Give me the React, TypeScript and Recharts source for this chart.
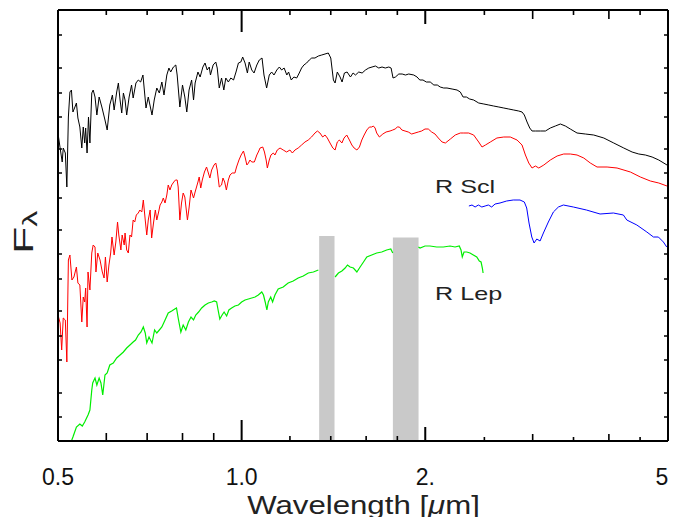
import React from "react";
import { ComposedChart, Line, XAxis, YAxis, ReferenceArea, ReferenceLine } from "recharts";

// Spectra: [wavelength (µm), F_lambda (arbitrary units)]
const blackSpec: [number, number][] = [
[0.501,3.04],[0.504,2.93],[0.508,2.79],[0.510,2.93],[0.514,2.88],[0.517,2.54],[0.520,3.24],[0.523,3.49],[0.526,3.51],[0.529,3.29],[0.533,3.34],[0.536,3.38],[0.539,3.23],[0.543,3.14],[0.547,2.93],[0.550,3.14],[0.553,2.98],[0.555,3.13],[0.558,2.88],[0.561,3.24],[0.564,2.98],[0.568,3.48],[0.571,3.51],[0.575,3.44],[0.579,3.26],[0.584,3.44],[0.590,3.34],[0.597,3.21],[0.602,3.11],[0.608,3.36],[0.614,3.46],[0.618,3.31],[0.624,3.49],[0.628,3.58],[0.632,3.41],[0.636,3.28],[0.640,3.48],[0.644,3.41],[0.648,3.26],[0.654,3.44],[0.660,3.56],[0.664,3.43],[0.671,3.58],[0.677,3.61],[0.683,3.59],[0.689,3.66],[0.697,3.33],[0.703,3.44],[0.713,3.26],[0.719,3.41],[0.726,3.53],[0.733,3.48],[0.740,3.59],[0.746,3.46],[0.754,3.66],[0.760,3.73],[0.765,3.69],[0.773,3.74],[0.780,3.76],[0.784,3.66],[0.792,3.34],[0.800,3.56],[0.807,3.44],[0.813,3.29],[0.820,3.51],[0.828,3.61],[0.834,3.41],[0.839,3.58],[0.848,3.69],[0.855,3.64],[0.864,3.74],[0.871,3.78],[0.878,3.71],[0.885,3.74],[0.889,3.66],[0.898,3.76],[0.907,3.79],[0.912,3.73],[0.919,3.53],[0.927,3.63],[0.935,3.51],[0.942,3.63],[0.951,3.59],[0.960,3.63],[0.970,3.61],[0.979,3.69],[0.988,3.78],[0.997,3.79],[1.004,3.84],[1.013,3.78],[1.022,3.68],[1.029,3.79],[1.039,3.71],[1.048,3.68],[1.059,3.76],[1.069,3.81],[1.080,3.83],[1.088,3.66],[1.099,3.53],[1.110,3.66],[1.120,3.69],[1.130,3.66],[1.142,3.71],[1.153,3.74],[1.163,3.71],[1.174,3.73],[1.186,3.66],[1.194,3.69],[1.206,3.61],[1.218,3.64],[1.231,3.63],[1.243,3.68],[1.254,3.73],[1.265,3.76],[1.278,3.78],[1.291,3.81],[1.303,3.83],[1.319,3.83],[1.336,3.85],[1.353,3.86],[1.370,3.87],[1.387,3.88],[1.400,3.83],[1.414,3.61],[1.423,3.58],[1.435,3.69],[1.450,3.64],[1.461,3.59],[1.474,3.68],[1.489,3.69],[1.508,3.64],[1.523,3.68],[1.537,3.66],[1.556,3.69],[1.576,3.68],[1.596,3.71],[1.616,3.73],[1.636,3.74],[1.657,3.75],[1.678,3.73],[1.699,3.74],[1.720,3.73],[1.743,3.74],[1.758,3.73],[1.771,3.63],[1.787,3.64],[1.810,3.67],[1.833,3.67],[1.856,3.66],[1.879,3.67],[1.915,3.66],[1.939,3.64],[1.959,3.61],[1.983,3.61],[2.008,3.59],[2.038,3.59],[2.066,3.56],[2.093,3.56],[2.116,3.54],[2.144,3.53],[2.171,3.53],[2.213,3.52],[2.255,3.51],[2.283,3.49],[2.307,3.44],[2.336,3.44],[2.365,3.42],[2.401,3.41],[2.447,3.38],[2.495,3.37],[2.542,3.36],[2.589,3.35],[2.640,3.34],[2.690,3.33],[2.741,3.32],[2.793,3.31],[2.846,3.30],[2.882,3.29],[2.907,3.26],[2.937,3.19],[2.967,3.13],[2.993,3.10],[3.031,3.10],[3.089,3.10],[3.148,3.10],[3.207,3.13],[3.268,3.15],[3.331,3.17],[3.394,3.15],[3.458,3.12],[3.547,3.08],[3.660,3.07],[3.777,3.06],[3.924,3.03],[4.074,2.98],[4.231,2.93],[4.366,2.89],[4.478,2.87],[4.591,2.86],[4.709,2.84],[4.829,2.81],[4.981,2.76]
];

const redSpec: [number, number][] = [
[0.501,1.24],[0.504,1.18],[0.507,0.91],[0.510,1.23],[0.514,1.21],[0.517,0.79],[0.520,1.81],[0.523,1.86],[0.527,1.61],[0.531,1.64],[0.536,1.74],[0.539,1.58],[0.543,1.56],[0.547,1.19],[0.550,1.44],[0.553,1.39],[0.555,1.53],[0.558,1.14],[0.560,1.69],[0.564,1.51],[0.568,1.88],[0.571,1.96],[0.575,1.94],[0.577,1.69],[0.581,1.88],[0.586,1.81],[0.591,1.69],[0.595,1.63],[0.598,1.84],[0.602,1.59],[0.606,1.76],[0.610,1.88],[0.613,2.04],[0.618,1.86],[0.622,1.99],[0.626,2.19],[0.629,2.06],[0.634,1.91],[0.637,2.06],[0.642,1.96],[0.644,2.08],[0.648,1.91],[0.652,1.88],[0.656,2.06],[0.660,2.04],[0.664,2.21],[0.668,2.19],[0.672,2.26],[0.677,2.28],[0.681,2.31],[0.686,2.29],[0.690,2.41],[0.695,2.21],[0.699,2.06],[0.703,2.21],[0.708,2.31],[0.712,2.03],[0.717,2.18],[0.722,2.31],[0.726,2.21],[0.731,2.29],[0.735,2.36],[0.740,2.39],[0.744,2.43],[0.749,2.38],[0.754,2.46],[0.758,2.56],[0.763,2.51],[0.768,2.56],[0.774,2.59],[0.779,2.61],[0.784,2.61],[0.787,2.54],[0.792,2.21],[0.797,2.38],[0.802,2.48],[0.807,2.44],[0.815,2.21],[0.820,2.33],[0.826,2.51],[0.834,2.43],[0.839,2.49],[0.848,2.59],[0.852,2.64],[0.857,2.53],[0.862,2.61],[0.869,2.69],[0.876,2.74],[0.882,2.68],[0.887,2.63],[0.893,2.71],[0.901,2.76],[0.907,2.78],[0.912,2.71],[0.919,2.54],[0.927,2.56],[0.932,2.63],[0.938,2.59],[0.944,2.51],[0.951,2.61],[0.957,2.66],[0.965,2.68],[0.975,2.68],[0.981,2.74],[0.990,2.81],[0.998,2.86],[1.007,2.90],[1.013,2.84],[1.020,2.76],[1.026,2.78],[1.032,2.81],[1.039,2.79],[1.049,2.79],[1.052,2.81],[1.059,2.86],[1.065,2.89],[1.072,2.93],[1.083,2.94],[1.090,2.89],[1.097,2.81],[1.102,2.73],[1.110,2.81],[1.117,2.86],[1.127,2.88],[1.134,2.86],[1.144,2.91],[1.156,2.93],[1.170,2.91],[1.185,2.89],[1.200,2.91],[1.211,2.88],[1.223,2.91],[1.238,2.93],[1.254,2.96],[1.270,2.99],[1.286,3.01],[1.302,3.04],[1.319,3.08],[1.331,3.10],[1.344,3.08],[1.358,3.04],[1.370,3.06],[1.382,3.03],[1.396,2.98],[1.411,2.93],[1.423,2.91],[1.435,2.99],[1.446,3.01],[1.460,2.98],[1.472,3.03],[1.487,3.06],[1.502,3.01],[1.516,2.96],[1.529,2.93],[1.545,2.91],[1.560,2.94],[1.574,3.01],[1.588,3.06],[1.604,3.11],[1.620,3.14],[1.634,3.14],[1.644,3.15],[1.655,3.13],[1.665,3.08],[1.682,3.04],[1.704,3.07],[1.725,3.09],[1.751,3.10],[1.769,3.11],[1.785,3.12],[1.800,3.14],[1.814,3.14],[1.831,3.11],[1.853,3.10],[1.876,3.09],[1.900,3.07],[1.924,3.08],[1.948,3.09],[1.973,3.10],[1.998,3.12],[2.023,3.12],[2.049,3.09],[2.075,3.07],[2.101,3.03],[2.131,2.99],[2.158,2.98],[2.199,3.02],[2.240,3.06],[2.283,3.08],[2.313,3.08],[2.356,3.08],[2.401,3.06],[2.447,2.99],[2.478,2.94],[2.510,2.96],[2.557,2.99],[2.621,3.03],[2.690,3.04],[2.757,3.04],[2.828,3.01],[2.882,2.96],[2.919,2.86],[2.956,2.78],[2.993,2.73],[3.031,2.75],[3.070,2.73],[3.129,2.76],[3.207,2.81],[3.290,2.85],[3.373,2.87],[3.458,2.87],[3.547,2.86],[3.638,2.83],[3.729,2.78],[3.825,2.74],[3.973,2.74],[4.125,2.73],[4.338,2.69],[4.505,2.64],[4.678,2.60],[4.829,2.58],[4.981,2.55]
];

const blueSpec: [number, number][] = [
[2.358,2.35],[2.386,2.36],[2.414,2.34],[2.444,2.36],[2.476,2.34],[2.507,2.35],[2.538,2.36],[2.570,2.34],[2.603,2.37],[2.652,2.38],[2.719,2.40],[2.788,2.41],[2.860,2.41],[2.907,2.39],[2.933,2.33],[2.959,2.18],[2.990,2.04],[3.016,1.98],[3.047,2.02],[3.085,2.00],[3.124,2.08],[3.183,2.19],[3.244,2.29],[3.306,2.34],[3.369,2.36],[3.498,2.34],[3.675,2.31],[3.869,2.27],[4.069,2.28],[4.225,2.26],[4.280,2.21],[4.445,2.16],[4.616,2.09],[4.733,2.04],[4.822,2.04],[4.914,1.99],[4.976,1.94]
];

const greenSpec: [number, number | null][] = [
[0.526,0.00],[0.529,0.04],[0.536,0.14],[0.543,0.17],[0.548,0.15],[0.553,0.19],[0.560,0.26],[0.564,0.31],[0.568,0.51],[0.570,0.58],[0.575,0.63],[0.579,0.56],[0.584,0.63],[0.588,0.58],[0.592,0.46],[0.597,0.66],[0.602,0.68],[0.608,0.76],[0.616,0.78],[0.624,0.83],[0.632,0.86],[0.640,0.89],[0.648,0.93],[0.656,0.96],[0.664,0.99],[0.670,1.01],[0.677,1.06],[0.684,1.09],[0.690,1.14],[0.695,1.08],[0.699,0.98],[0.705,1.04],[0.713,0.98],[0.720,1.11],[0.726,1.08],[0.733,1.11],[0.740,1.14],[0.749,1.21],[0.758,1.28],[0.768,1.30],[0.777,1.32],[0.782,1.33],[0.787,1.23],[0.795,1.09],[0.802,1.16],[0.810,1.11],[0.818,1.19],[0.826,1.24],[0.834,1.21],[0.841,1.26],[0.850,1.29],[0.860,1.33],[0.871,1.36],[0.882,1.38],[0.893,1.39],[0.902,1.40],[0.910,1.39],[0.915,1.31],[0.921,1.22],[0.929,1.26],[0.936,1.29],[0.945,1.25],[0.953,1.31],[0.963,1.33],[0.975,1.35],[0.988,1.36],[1.000,1.39],[1.013,1.41],[1.026,1.42],[1.039,1.43],[1.052,1.44],[1.065,1.46],[1.079,1.49],[1.086,1.46],[1.093,1.39],[1.100,1.31],[1.106,1.39],[1.116,1.44],[1.124,1.39],[1.134,1.46],[1.148,1.52],[1.170,1.54],[1.192,1.58],[1.215,1.60],[1.238,1.63],[1.262,1.65],[1.286,1.68],[1.311,1.69],[1.336,1.71],[1.38,null],[1.423,1.64],[1.441,1.68],[1.460,1.70],[1.478,1.73],[1.491,1.76],[1.506,1.74],[1.525,1.73],[1.545,1.69],[1.564,1.74],[1.584,1.79],[1.604,1.84],[1.634,1.86],[1.665,1.88],[1.697,1.89],[1.729,1.91],[1.756,1.92],[1.769,1.88],[1.86,null],[1.949,1.94],[1.961,1.93],[1.998,1.95],[2.036,1.95],[2.088,1.94],[2.141,1.94],[2.196,1.95],[2.238,1.94],[2.274,1.95],[2.289,1.91],[2.300,1.84],[2.315,1.89],[2.339,1.89],[2.368,1.88],[2.398,1.86],[2.429,1.84],[2.453,1.80],[2.469,1.79],[2.481,1.73],[2.488,1.68]
];

// Telluric (masked) bands
const bandStart = [1.34, 1.77];
const bandEnd = [1.42, 1.95];
const bandTop = [2.05, 2.035];

// Axis ticks
const xTicks = [0.5, 0.6, 0.7, 0.8, 0.9, 1, 1.2, 1.4, 1.6, 1.8, 2, 2.5, 3, 3.5, 4, 4.5, 5];
const xMajor = [0.5, 1, 2, 5];
const xMajorLabels = ["0.5", "1.0", "2.", "5."];
const yTicks = [0.24, 0.48, 0.81, 1.05, 1.3, 1.62, 1.87, 2.11, 2.43, 2.68, 2.92, 3.24, 3.48, 3.73, 4.06];
const Y_MIN = 0;
const Y_MAX = 4.31;

const toRows = (arr: [number, number | null][]) => arr.map(([w, f]) => ({ w, f }));

const FONT = "'Liberation Sans', Arial, Helvetica, sans-serif";
const CHART_W = 669;
const CHART_H = 509;
const MARGIN_TOP = 2;
const X_AXIS_H = 76;
const PLOT_H = CHART_H - MARGIN_TOP - X_AXIS_H; // frame height in px

// tick length (px) in the Mathematica-like frame hierarchy
const bottomLen = (v: number) =>
  v === 1 ? 21 : v === 2 ? 14 : v === 0.5 || v === 5 ? 12 : v < 1 ? 8 : v === 3 || v === 4 ? 7 : v > 2 ? 4 : 5;
const topLen = (v: number) =>
  v === 1 ? 22 : v === 2 ? 14 : v === 0.5 || v === 5 ? 12 : v === 3 || v === 4 ? 9 : 5;

// bottom-axis tick renderer: bottom tick, matching top-frame tick (as thin filled rects), label
const FrameTick = (props: any) => {
  const { x, y, payload } = props;
  const v = payload.value;
  const mi = xMajor.indexOf(v);
  const w = mi >= 0 ? 2 : 1.6;
  const top = y - PLOT_H;
  const bl = bottomLen(v);
  const tl = topLen(v);
  return (
    <g>
      <rect x={x - w / 2} y={y - bl} width={w} height={bl} fill="#000" stroke="none" />
      <rect x={x - w / 2} y={top} width={w} height={tl} fill="#000" stroke="none" />
      {mi >= 0 && (
        <text
          x={mi === xMajor.length - 1 ? x - 3 : x}
          y={y + 44}
          textAnchor="middle"
          fontSize={23}
          fontFamily={FONT}
          fill="#111"
          stroke="none"
        >
          {xMajorLabels[mi]}
        </text>
      )}
    </g>
  );
};

const LeftTick = (props: any) => {
  const { x, y } = props;
  return <line x1={x} x2={x + 4} y1={y} y2={y} stroke="#000" strokeWidth={1.5} />;
};

const RightTick = (props: any) => {
  const { x, y } = props;
  return <line x1={x} x2={x - 4} y1={y} y2={y} stroke="#000" strokeWidth={1.5} />;
};

export default function App() {
  const black = toRows(blackSpec);
  const red = toRows(redSpec);
  const blue = toRows(blueSpec);
  const green = toRows(greenSpec);
  return (
    <div style={{ width: CHART_W, height: CHART_H }}>
      <ComposedChart width={CHART_W} height={CHART_H} margin={{ top: MARGIN_TOP, right: 0, bottom: 0, left: 0 }}>
        <XAxis
          xAxisId="b"
          dataKey="w"
          type="number"
          scale="log"
          domain={[0.5, 5]}
          allowDataOverflow
          ticks={xTicks}
          interval={0}
          orientation="bottom"
          height={X_AXIS_H}
          tickSize={0}
          tickMargin={0}
          tickLine={false}
          tick={<FrameTick />}
          axisLine={{ stroke: "#000", strokeWidth: 2 }}
        />
        <YAxis
          yAxisId="l"
          dataKey="f"
          type="number"
          domain={[Y_MIN, Y_MAX]}
          allowDataOverflow
          ticks={yTicks}
          interval={0}
          orientation="left"
          width={50}
          tickSize={0}
          tickMargin={0}
          tickLine={false}
          tick={<LeftTick />}
          axisLine={{ stroke: "#000", strokeWidth: 2 }}
        />
        <YAxis
          yAxisId="r"
          dataKey="f"
          type="number"
          domain={[Y_MIN, Y_MAX]}
          allowDataOverflow
          ticks={yTicks}
          interval={0}
          orientation="right"
          width={9}
          tickSize={0}
          tickMargin={0}
          tickLine={false}
          tick={<RightTick />}
          axisLine={{ stroke: "#000", strokeWidth: 2 }}
        />
        {/* top frame line */}
        <ReferenceLine xAxisId="b" yAxisId="l" y={Y_MAX} stroke="#000" strokeWidth={2} />
        {bandStart.map((s, i) => (
          <ReferenceArea
            key={"band" + i}
            xAxisId="b"
            yAxisId="l"
            x1={s}
            x2={bandEnd[i]}
            y1={Y_MIN}
            y2={bandTop[i]}
            fill="#c9c9c9"
            fillOpacity={1}
            stroke="none"
          />
        ))}
        <Line xAxisId="b" yAxisId="l" data={black} dataKey="f" stroke="#000000" strokeWidth={1} dot={false} isAnimationActive={false} />
        <Line xAxisId="b" yAxisId="l" data={red} dataKey="f" stroke="#ff0000" strokeWidth={1} dot={false} isAnimationActive={false} />
        <Line xAxisId="b" yAxisId="l" data={blue} dataKey="f" stroke="#0000ff" strokeWidth={1} dot={false} isAnimationActive={false} />
        <Line xAxisId="b" yAxisId="l" data={green} dataKey="f" stroke="#00ee00" strokeWidth={1.2} dot={false} connectNulls={false} isAnimationActive={false} />
        <text transform="translate(427,185) scale(1.4,1)" fontSize={18} fontFamily={FONT} fill="#222">R Scl</text>
        <text transform="translate(427,292) scale(1.4,1)" fontSize={18} fontFamily={FONT} fill="#222">R Lep</text>
        <text transform="translate(355.5,506) scale(1.2,1)" textAnchor="middle" fontSize={26} fontFamily={FONT} fill="#222">
          Wavelength [<tspan fontStyle="italic">μ</tspan>m]
        </text>
        <text transform="translate(24.5,246) rotate(-90) scale(1.6,1)" fontSize={28} fontFamily={FONT} fill="#222">
          F<tspan fontSize={20} dy={4.5}>λ</tspan>
        </text>
      </ComposedChart>
    </div>
  );
}
